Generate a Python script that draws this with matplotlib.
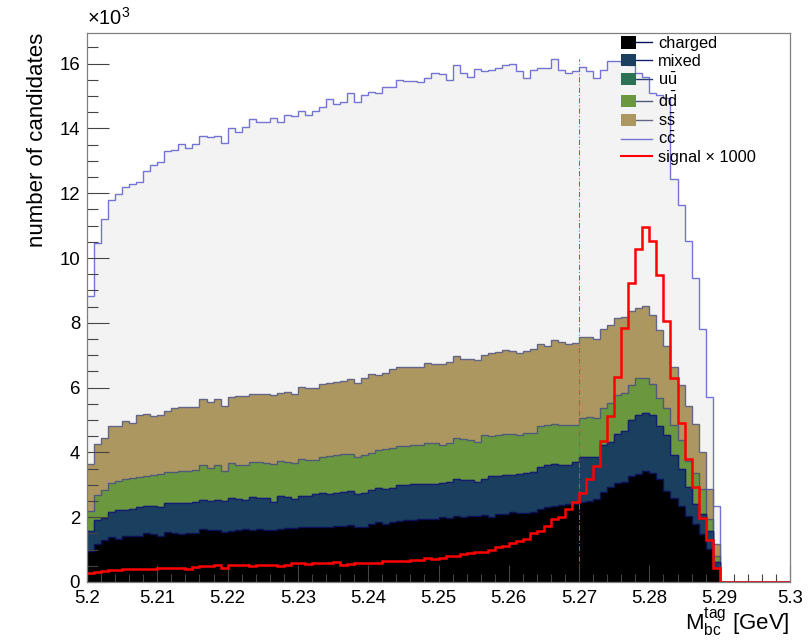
import numpy as np
import matplotlib
matplotlib.use("Agg")
import matplotlib.pyplot as plt
from matplotlib.patches import Patch
from matplotlib.lines import Line2D
from matplotlib.legend_handler import HandlerTuple
from matplotlib.ticker import MultipleLocator, FuncFormatter

plt.rcParams['font.family'] = ['Liberation Sans', 'DejaVu Sans']
plt.rcParams['mathtext.fontset'] = 'custom'
plt.rcParams['mathtext.rm'] = 'Liberation Sans'
plt.rcParams['mathtext.it'] = 'Liberation Sans:italic'
plt.rcParams['mathtext.bf'] = 'Liberation Sans:bold'

# binning of the tag-side beam-constrained mass (GeV)
m_lo, m_hi, n_bins = 5.20, 5.30, 100
cut_mbc = 5.27
signal_scale = 1000

# candidates per bin for each background component
charged = [960, 1160, 1300, 1380, 1340, 1410, 1410, 1430, 1510, 1480,
           1430, 1530, 1510, 1490, 1510, 1510, 1650, 1610, 1610, 1550,
           1580, 1610, 1650, 1610, 1650, 1610, 1590, 1650, 1680, 1680,
           1700, 1700, 1700, 1700, 1710, 1720, 1740, 1770, 1700, 1700,
           1790, 1840, 1780, 1850, 1880, 1900, 1920, 1940, 1940, 1960,
           2000, 1990, 2050, 2000, 2030, 2050, 2070, 2020, 2100, 2090,
           2150, 2130, 2130, 2170, 2250, 2310, 2360, 2380, 2410, 2410,
           2460, 2510, 2560, 2770, 2930, 3060, 3080, 3260, 3340, 3420,
           3370, 3190, 2820, 2590, 2340, 2050, 1790, 1480, 1010, 440,
           0, 0, 0, 0, 0, 0, 0, 0, 0, 0]

mixed = [600, 760, 690, 790, 870, 820, 840, 900, 850, 860,
         870, 900, 930, 950, 940, 950, 890, 890, 930, 950,
         1020, 940, 890, 1010, 950, 980, 890, 990, 950, 880,
         950, 970, 1020, 1050, 1020, 1030, 1030, 1030, 1030, 1050,
         1050, 1060, 1090, 1060, 1100, 1090, 1100, 1080, 1090, 1070,
         1060, 1090, 1140, 1160, 1110, 1050, 1120, 1240, 1170, 1220,
         1160, 1210, 1240, 1240, 1290, 1290, 1290, 1240, 1190, 1290,
         1400, 1350, 1300, 1450, 1390, 1520, 1570, 1730, 1830, 1800,
         1780, 1630, 1710, 1340, 1160, 880, 620, 620, 570, 180,
         0, 0, 0, 0, 0, 0, 0, 0, 0, 0]

# no u-ubar candidates survive the selection
uubar = [0] * n_bins

ddbar = [640, 780, 860, 890, 920, 950, 960, 910, 910, 970,
         1020, 970, 970, 990, 990, 990, 1080, 1020, 1060, 940,
         1060, 1070, 1080, 1080, 1110, 1070, 1150, 1080, 1070, 1120,
         1160, 1090, 1040, 1120, 1160, 1160, 1170, 1140, 1120, 1180,
         1140, 1160, 1230, 1230, 1210, 1210, 1200, 1200, 1270, 1250,
         1180, 1200, 1240, 1240, 1230, 1230, 1340, 1250, 1260, 1250,
         1270, 1190, 1240, 1200, 1280, 1240, 1240, 1240, 1240, 1160,
         1210, 1240, 1190, 1140, 1220, 1190, 1170, 1090, 1120, 1070,
         950, 870, 830, 910, 870, 820, 940, 770, 380, 170,
         0, 0, 0, 0, 0, 0, 0, 0, 0, 0]

ssbar = [1430, 1550, 1610, 1760, 1690, 1780, 1710, 1910, 1920, 1820,
         1850, 1890, 1950, 1980, 1950, 1960, 2030, 2040, 2050, 1980,
         2060, 2110, 2130, 2100, 2080, 2130, 2140, 2120, 2150, 2110,
         2210, 2220, 2240, 2240, 2240, 2250, 2260, 2330, 2280, 2360,
         2430, 2330, 2360, 2420, 2440, 2430, 2410, 2420, 2460, 2440,
         2500, 2520, 2550, 2490, 2500, 2520, 2480, 2560, 2560, 2610,
         2560, 2530, 2530, 2570, 2520, 2440, 2570, 2540, 2510, 2520,
         2500, 2470, 2450, 2460, 2400, 2380, 2360, 2280, 2170, 2240,
         2150, 2100, 1910, 1810, 1710, 1680, 1540, 1140, 920, 380,
         0, 0, 0, 0, 0, 0, 0, 0, 0, 0]

ccbar = [5210, 6200, 6730, 6970, 7160, 7240, 7360, 7190, 7510, 7740,
         7810, 8010, 7970, 8110, 8000, 8110, 8130, 8190, 8130, 8130,
         8280, 8170, 8280, 8490, 8400, 8400, 8540, 8350, 8570, 8600,
         8520, 8430, 8550, 8560, 8780, 8580, 8630, 8830, 8700, 8740,
         8720, 8690, 8810, 8710, 8880, 8820, 8840, 8800, 8790, 8990,
         8940, 8710, 8970, 8820, 8710, 8980, 8770, 8750, 8780, 8790,
         8860, 8710, 8430, 8640, 8520, 8590, 8680, 8400, 8370, 8400,
         8340, 8210, 8050, 7980, 8140, 7930, 7820, 7590, 7240, 7070,
         6850, 7240, 7680, 5800, 5560, 5100, 4480, 3810, 2840, 1170,
         0, 0, 0, 0, 0, 0, 0, 0, 0, 0]

# expected signal candidates per bin (drawn scaled by signal_scale)
signal = [0.27, 0.31, 0.34, 0.36, 0.36, 0.39, 0.39, 0.39, 0.41, 0.41,
          0.42, 0.43, 0.44, 0.44, 0.39, 0.47, 0.48, 0.50, 0.51, 0.43,
          0.51, 0.52, 0.52, 0.50, 0.52, 0.52, 0.52, 0.50, 0.54, 0.58,
          0.58, 0.56, 0.58, 0.58, 0.58, 0.62, 0.54, 0.56, 0.58, 0.60,
          0.60, 0.60, 0.65, 0.66, 0.66, 0.66, 0.68, 0.68, 0.73, 0.72,
          0.74, 0.81, 0.79, 0.86, 0.91, 0.93, 0.93, 1.00, 1.07, 1.12,
          1.20, 1.27, 1.34, 1.50, 1.58, 1.74, 1.95, 2.00, 2.25, 2.46,
          2.75, 3.19, 3.58, 4.34, 5.13, 6.32, 7.84, 9.22, 10.29, 10.97,
          10.53, 9.49, 8.05, 6.31, 4.91, 3.81, 2.93, 1.98, 1.30, 0.44,
          0, 0, 0, 0, 0, 0, 0, 0, 0, 0]

# stack order bottom -> top: (label, counts, fill colour, line colour)
components = [
    ("charged", charged, "#000000", "#0c1058"),
    ("mixed", mixed, "#1b3f5e", "#131f6e"),
    (r"$\mathregular{u\bar{u}}$", uubar, "#2c7153", "#2a3f73"),
    (r"$\mathregular{d\bar{d}}$", ddbar, "#6b973f", "#4e5c7a"),
    (r"$\mathregular{s\bar{s}}$", ssbar, "#ad9761", "#646686"),
    (r"$\mathregular{c\bar{c}}$", ccbar, "#f4f3f3", "#7474d4"),
]

edges = np.linspace(m_lo, m_hi, n_bins + 1)
cum = np.cumsum([np.asarray(c[1], dtype=float) for c in components], axis=0)
total = cum[-1]

fig = plt.figure(figsize=(8.11, 6.42), dpi=100)
ax = fig.add_axes([87 / 811, 1 - 582 / 642, 703 / 811, 549 / 642])

# draw the stack from the top layer down, like a THStack
for (label, _, fc, ec), top in reversed(list(zip(components, cum))):
    ax.stairs(top, edges, baseline=0, fill=True, facecolor=fc,
              edgecolor="none", linewidth=0, zorder=1)
    ax.stairs(top, edges, baseline=None, color=ec, linewidth=1.0, zorder=1.2)

sig = np.asarray(signal) * signal_scale
ax.stairs(sig, edges, baseline=None, color="#ff0000", linewidth=1.8, zorder=3)

ax.vlines(cut_mbc, 0, total.max(), colors="#f03c3c", linewidth=0.75,
          linestyles=(0, (5, 2, 1, 2)), zorder=1.5)

ax.set_xlim(m_lo, m_hi)
ax.set_ylim(0, 1.05 * total.max())

ax.xaxis.set_major_locator(MultipleLocator(0.01))
ax.xaxis.set_minor_locator(MultipleLocator(0.002))
ax.yaxis.set_major_locator(MultipleLocator(2000))
ax.yaxis.set_minor_locator(MultipleLocator(500))
ax.xaxis.set_major_formatter(FuncFormatter(lambda v, p: f"{round(v, 3):g}"))
ax.yaxis.set_major_formatter(FuncFormatter(lambda v, p: f"{v / 1000:g}"))

ax.set_axisbelow(False)
ax.tick_params(axis="both", which="both", direction="in", top=False,
               right=False, color="#444444", labelsize=13.4, width=0.8)
ax.tick_params(axis="y", which="major", length=15.6, pad=5)
ax.tick_params(axis="y", which="minor", length=7.9)
ax.tick_params(axis="x", which="major", length=12, pad=5.5)
ax.tick_params(axis="x", which="minor", length=6)
for s in ax.spines.values():
    s.set_color("#808080")
    s.set_linewidth(0.9)
    s.set_zorder(4)

ax.text(0.0, 1.008, r"$\mathregular{\times10^{3}}$", transform=ax.transAxes,
        ha="left", va="bottom", fontsize=14.5)
ax.set_ylabel("number of candidates", fontsize=16, loc="top", labelpad=8)
fig.text(790 / 811, 1 - 630 / 642, r"$\mathregular{M_{bc}^{tag}}$ [GeV]",
         ha="right", va="baseline", fontsize=16)

handles = []
labels = []
for label, _, fc, ec in components[:-1]:
    handles.append((Patch(facecolor=fc, edgecolor="none"),
                    Line2D([], [], color=ec, linewidth=1.0)))
    labels.append(label)
handles.append(Line2D([], [], color=components[-1][3], linewidth=1.0))
labels.append(components[-1][0])
handles.append(Line2D([], [], color="#ff0000", linewidth=1.5))
labels.append(f"signal × {signal_scale}")

ax.legend(handles, labels, handler_map={tuple: HandlerTuple(ndivide=None, pad=0)},
          loc="upper left", bbox_to_anchor=(620.7 / 811, 1 - 36 / 642),
          bbox_transform=fig.transFigure, frameon=False, fontsize=11.8,
          handlelength=1.9, handleheight=0.8, handletextpad=0.4,
          labelspacing=0.17, borderpad=0, borderaxespad=0)

fig.savefig("out.png", dpi=100)
